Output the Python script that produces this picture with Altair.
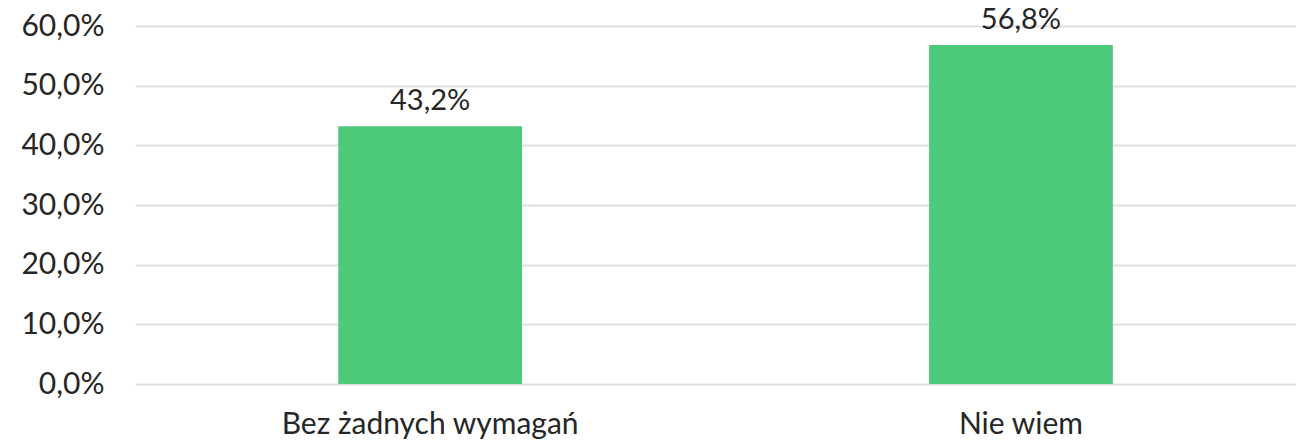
import altair as alt
import pandas as pd

categories = ["Bez żadnych wymagań", "Nie wiem"]
values = [0.432, 0.568]
y_ticks = [0.0, 0.1, 0.2, 0.3, 0.4, 0.5, 0.6]

df = pd.DataFrame({"cat": categories, "val": values})
df["label"] = [f"{v*100:.1f}%".replace(".", ",") for v in values]

FONT = "Lato"
TXT = "#262626"
FS = 30

base = alt.Chart(df).encode(
    x=alt.X("cat:N", sort=categories, title=None,
            scale=alt.Scale(paddingInner=0.689, paddingOuter=0.327, align=0.526),
            axis=alt.Axis(labelAngle=0, domain=False, ticks=False, grid=False,
                          labelFont=FONT, labelFontSize=FS, labelColor=TXT,
                          labelPadding=25, labelLimit=0)),
    y=alt.Y("val:Q", title=None,
            scale=alt.Scale(domain=[0, 0.6], nice=False),
            axis=alt.Axis(values=y_ticks, domain=False, ticks=False,
                          labelExpr="replace(format(datum.value, '.1%'), '.', ',')",
                          labelFont=FONT, labelFontSize=FS, labelColor=TXT,
                          labelPadding=31, gridColor="#e0e0e0", gridWidth=2)),
)

bars = base.mark_bar(color="#4DC97A")
labels = base.mark_text(dy=-16, baseline="alphabetic", font=FONT, fontSize=29,
                        color=TXT).encode(text="label:N")

chart = (bars + labels).properties(
    width=1161, height=358,
    autosize=alt.AutoSizeParams(type="none"),
    padding={"left": 127, "top": 18, "right": 0, "bottom": 60},
).configure_view(stroke=None)

chart.save("out.html", embed_options={"renderer": "svg", "actions": False})
